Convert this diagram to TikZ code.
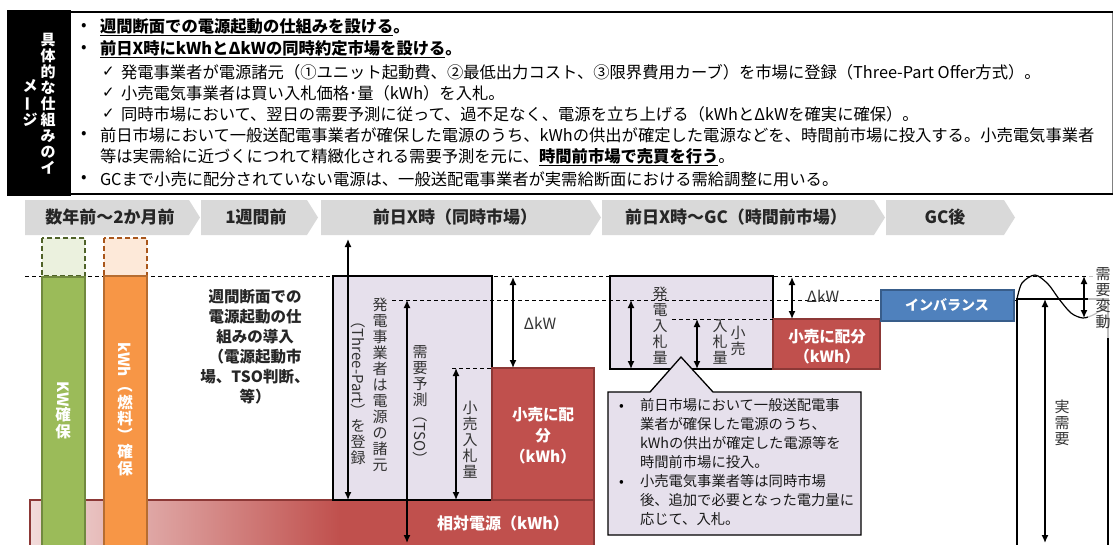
\documentclass[tikz,border=0pt]{standalone}
\usepackage{fontspec}
\usepackage{graphicx}
\setmainfont{Noto Sans CJK JP}
\newfontfamily\dv{DejaVu Sans}
\usetikzlibrary{arrows.meta}
\definecolor{lav}{HTML}{E6E0EC}
\definecolor{rd}{HTML}{C0504D}
\definecolor{rdb}{HTML}{8C3836}
\definecolor{pk}{HTML}{F2DCDB}
\definecolor{gr}{HTML}{9BBB59}
\definecolor{grb}{HTML}{71893F}
\definecolor{grl}{HTML}{EBF1DE}
\definecolor{grd}{HTML}{4F6228}
\definecolor{og}{HTML}{F79646}
\definecolor{ogb}{HTML}{B66D31}
\definecolor{ogl}{HTML}{FDE9D9}
\definecolor{ogd}{HTML}{A9561B}
\definecolor{bl}{HTML}{4F81BD}
\definecolor{blb}{HTML}{385D8A}
\definecolor{chev}{HTML}{D9D9D9}
\definecolor{tg}{HTML}{333333}
\newcommand{\rl}[1]{\rotatebox[origin=c]{-90}{#1}}
\tikzset{
  every node/.style={inner sep=0pt,outer sep=0pt},
  toptxt/.style={anchor=west,font=\fontsize{16.3}{20}\selectfont},
  topbold/.style={anchor=west,font=\bfseries\fontsize{16.3}{20}\selectfont},
  chevtxt/.style={font=\bfseries\fontsize{17}{20}\selectfont,text=black!85},
  vlab/.style={align=center,font=\fontsize{15}{16}\selectfont,text=tg},
  wlab/.style={align=center,font=\bfseries\fontsize{15.5}{21}\selectfont,text=white},
  dbl/.style={{Latex[length=8pt,width=7pt]}-{Latex[length=8pt,width=7pt]},line width=1.4pt},
  dsh/.style={dash pattern=on 4pt off 3pt,line width=1pt},
  lavbox/.style={fill=lav,draw=black,line width=1.3pt},
  redbox/.style={fill=rd,draw=rdb,line width=1.2pt},
  chk/.style={anchor=west,font=\dv\fontsize{15}{16}\selectfont},
  calltxt/.style={anchor=north west,align=left,font=\fontsize{14.3}{19}\selectfont,text=black!90}
}
\begin{document}
\begin{tikzpicture}[x=1pt,y=-1pt]
\useasboundingbox (0,0) rectangle (1115,544);
\begin{scope}
\clip (0,0) rectangle (1115,544);
% ---------- top box ----------
\fill[black] (7,10) rectangle (71,196);
\draw[gray,line width=0.8pt] (1112,12) -- (1112,194);
\draw[line width=2pt] (71,12) -- (1113,12);
\draw[line width=2pt] (71,194) -- (1113,194);
\node[wlab,font=\bfseries\fontsize{15}{16}\selectfont] (im1) at (48,104) {具\\体\\的\\な\\仕\\組\\み\\の\\イ};
\node[wlab,font=\bfseries\fontsize{15}{16}\selectfont] (im2) at (30,103) {メ\\\rotatebox[origin=c]{90}{ー}\\ジ};
\node[toptxt] (p1) at (81,27) {•};
\node[toptxt] (p2) at (81,49) {•};
\node[toptxt] (p6) at (81,135) {•};
\node[toptxt] (p8) at (81,179) {•};
\node[topbold] (t1) at (100,27) {\underline{週間断面での電源起動の仕組みを設ける}。};
\node[topbold] (t2) at (100,49) {\underline{前日X時にkWhとΔkWの同時約定市場を設ける}。};
\node[chk] (c3) at (102,72) {✓};
\node[chk] (c4) at (102,93) {✓};
\node[chk] (c5) at (102,114) {✓};
\node[toptxt] (t3) at (121,72) {発電事業者が電源諸元（①ユニット起動費、②最低出力コスト、③限界費用カーブ）を市場に登録（Three-Part Offer方式）。};
\node[toptxt] (t4) at (121,93) {小売電気事業者は買い入札価格･量（kWh）を入札。};
\node[toptxt] (t5) at (121,114) {同時市場において、翌日の需要予測に従って、過不足なく、電源を立ち上げる（kWhとΔkWを確実に確保）。};
\node[toptxt] (t6) at (100,135) {前日市場において一般送配電事業者が確保した電源のうち、kWhの供出が確定した電源などを、時間前市場に投入する。小売電気事業者};
\node[toptxt] (t7) at (100,157) {等は実需給に近づくにつれて精緻化される需要予測を元に、\textbf{\underline{時間前市場で売買を行う}}。};
\node[toptxt] (t8) at (100,179) {GCまで小売に配分されていない電源は、一般送配電事業者が実需給断面における需給調整に用いる。};
% ---------- chevrons ----------
\foreach \a/\b in {25/200,201/318,321/601,602/885,886/1015}
  \fill[chev] (\a,200) -- ({\b-11},200) -- (\b,217.5) -- ({\b-11},235) -- (\a,235) -- cycle;
\node[chevtxt] (h1) at (110,217) {数年前～2か月前};
\node[chevtxt] (h2) at (256,217) {1週間前};
\node[chevtxt] (h3) at (455,217) {前日X時（同時市場）};
\node[chevtxt] (h4) at (736,217) {前日X時～GC（時間前市場）};
\node[chevtxt] (h5) at (945,217) {GC後};
% ---------- relative source bar ----------
\shade[left color=pk,right color=rd] (30,500) rectangle (340,560);
\fill[rd] (340,500) rectangle (594,560);
\draw[rdb,line width=1.2pt] (30,500) rectangle (594,560);
\node[wlab,font=\bfseries\fontsize{16}{20}\selectfont] (sd) at (503,523) {相対電源（kWh）};
% ---------- boxes ----------
\draw[lavbox] (333,276) rectangle (492,500);
\draw[redbox] (492,368) rectangle (594,500);
\draw[lavbox] (610,276) rectangle (773,369);
\draw[redbox] (773,319) rectangle (880,369);
% ---------- dashed lines ----------
\draw[dsh] (25,276) -- (1095,276);
\draw[dsh] (392,300) -- (1017,300);
\draw[dsh] (452,368) -- (492,368);
\draw[dsh] (672,319) -- (773,319);
% ---------- kW / kWh bars ----------
\draw[grd,dash pattern=on 5pt off 3pt,line width=1.5pt,fill=grl] (42,238) rectangle (85,276);
\draw[grb,fill=gr,line width=1.5pt] (42,277) rectangle (85,560);
\draw[ogd,dash pattern=on 5pt off 3pt,line width=1.5pt,fill=ogl] (104,238) rectangle (147,276);
\draw[ogb,fill=og,line width=1.5pt] (104,276) rectangle (147,560);
\node[wlab,font=\bfseries\fontsize{15.5}{16.5}\selectfont] (kw) at (63,410) {\rl{KW}\\確\\保};
\node[wlab,font=\bfseries\fontsize{15.5}{16.5}\selectfont] (kwh) at (125,409) {\rl{kWh}\\\rl{（}\\燃\\料\\\rl{）}\\確\\保};
% ---------- weekly text ----------
\node[align=center,font=\bfseries\fontsize{15.5}{20}\selectfont,text=black!85] (wk) at (255,347) {週間断面での\\電源起動の仕\\組みの導入\\（電源起動市\\場、TSO判断、\\等）};
% ---------- imbalance / actual demand ----------
\draw[fill=bl,draw=blb,line width=1.2pt] (881,290) rectangle (1014,321);
\node[wlab,font=\bfseries\fontsize{14}{16}\selectfont] (imb) at (947,305) {インバランス};
\draw[line width=1.5pt] (1017,560) -- (1017,299) -- (1108,299) -- (1108,560);
\draw[line width=1.2pt] plot[smooth] coordinates {(1017,299) (1022,283) (1035,275) (1048,284) (1059,299) (1071,313) (1083,318) (1095,314) (1106,306)};
% ---------- arrows ----------
\coordinate (a1t) at (348,239); \coordinate (a1b) at (348,500);
\coordinate (a2t) at (407,300); \coordinate (a2b) at (407,543);
\coordinate (a3t) at (456,368); \coordinate (a3b) at (456,500);
\coordinate (a4t) at (513,277); \coordinate (a4b) at (513,368);
\coordinate (a5t) at (631,300); \coordinate (a5b) at (631,369);
\coordinate (a6t) at (697,319); \coordinate (a6b) at (697,369);
\coordinate (a7t) at (792,277); \coordinate (a7b) at (792,319);
\coordinate (a8t) at (1084,276); \coordinate (a8b) at (1084,318);
\coordinate (a9t) at (1045,299); \coordinate (a9b) at (1045,543);
\foreach \n in {1,...,9} \draw[dbl] (a\n t) -- (a\n b);
% ---------- labels ----------
\node[vlab] (v1) at (380,385) {発\\電\\事\\業\\者\\は\\電\\源\\の\\諸\\元};
\node[vlab] (v2) at (358,389) {\rl{（Three-Part）}\\を\\登\\録};
\node[vlab] (v3) at (420,406) {需\\要\\予\\測\\\rl{（TSO）}};
\node[vlab] (v4) at (470,440) {小\\売\\入\\札\\量};
\node[font=\fontsize{15.5}{18}\selectfont,text=tg] (dk1) at (540,323) {ΔkW};
\node[wlab] (r1) at (543,436) {小売に配\\分\\（kWh）};
\node[vlab] (v5) at (660,326) {発\\電\\入\\札\\量};
\node[vlab] (v6) at (720,342) {入\\札\\量};
\node[vlab] (v7) at (738,341) {小\\売};
\node[font=\fontsize{15.5}{18}\selectfont,text=tg] (dk2) at (823,296) {ΔkW};
\node[wlab,font=\bfseries\fontsize{15.5}{20}\selectfont] (r2) at (827,347) {小売に配分\\（kWh）};
\node[vlab] (v9) at (1062,423) {実\\需\\要};
% ---------- callout ----------
\draw[lavbox] (608,392) -- (650,392) -- (681,357) -- (713,392) -- (861,392) -- (861,535) -- (608,535) -- cycle;
\node[anchor=west,font=\fontsize{14}{18}\selectfont] (cp1) at (619,407) {•};
\node[anchor=west,font=\fontsize{14}{18}\selectfont] (cp2) at (619,483) {•};
\node[calltxt] (cb1) at (640,398) {前日市場において一般送配電事\\業者が確保した電源のうち、\\kWhの供出が確定した電源等を\\時間前市場に投入。};
\node[calltxt] (cb2) at (640,474) {小売電気事業者等は同時市場\\後、追加で必要となった電力量に\\応じて、入札。};
% ---------- demand fluctuation overlay ----------
\fill[white,opacity=0.75] (1088,258) rectangle (1115,338);
\node[vlab] (v8) at (1103,298) {需\\要\\変\\動};
\end{scope}
\end{tikzpicture}
\end{document}
